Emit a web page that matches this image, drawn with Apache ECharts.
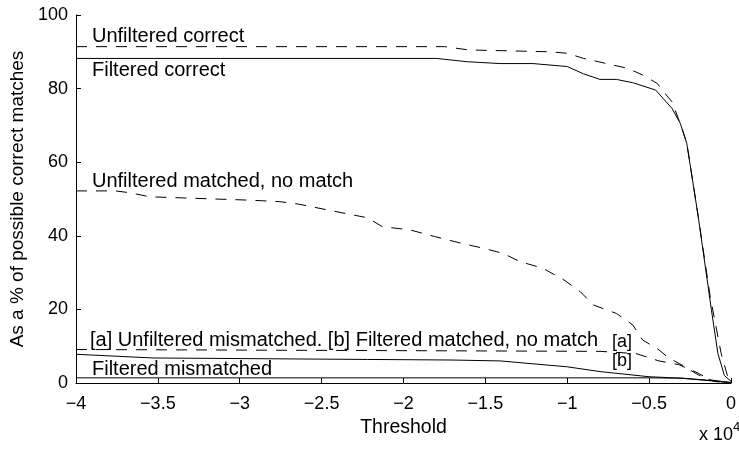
<!DOCTYPE html>
<html><head><meta charset="utf-8">
<script src="https://cdn.jsdelivr.net/npm/echarts@6/dist/echarts.min.js"></script>
<style>html,body{margin:0;padding:0;background:#fff}#c{width:739px;height:450px}</style>
</head><body><div id="c"></div>
<script>
// Threshold values in units of 10^4
const xTicks = [-4, -3.5, -3, -2.5, -2, -1.5, -1, -0.5, 0];
const yTicks = [0, 20, 40, 60, 80, 100];

const unfCorrectX = [-4, -1.75, -1.6, -1.1, -1.0, -0.9, -0.76, -0.63, -0.54, -0.45, -0.42, -0.36, -0.30, -0.27, -0.2, -0.127, -0.06, -0.018, 0];
const unfCorrectY = [91.4, 91.4, 90.5, 90.0, 89.6, 88.2, 86.8, 85.5, 83.7, 81.4, 79.6, 76.4, 69.3, 65.2, 45.2, 23.5, 8, 1.4, 0.5];

const filCorrectX = [-4, -1.8, -1.61, -1.41, -1.21, -1.0, -0.9, -0.8, -0.7, -0.6, -0.46, -0.36, -0.31, -0.27, -0.2, -0.12, -0.08, -0.04, 0];
const filCorrectY = [88.2, 88.2, 87.3, 86.8, 86.8, 86.0, 84.0, 82.5, 82.5, 81.6, 79.6, 74.6, 70.6, 65.1, 45.2, 20, 8, 2, 0.5];

const unfNoMatchX = [-4, -3.76, -3.67, -3.55, -2.95, -2.76, -2.64, -2.46, -2.22, -2.13, -1.96, -1.81, -1.65, -1.51, -1.39, -1.29, -1.15, -1.02, -0.92, -0.84, -0.70, -0.60, -0.54, -0.44, -0.38, -0.30, -0.20, -0.10, 0];
const unfNoMatchY = [52.2, 52.2, 51.7, 50.6, 49.7, 49.3, 48.6, 47.0, 44.9, 42.5, 41.6, 39.8, 38.0, 36.6, 35.2, 33.0, 31.2, 28.0, 24.8, 21.2, 18.9, 15.8, 11.7, 9.0, 6.8, 4.9, 2.2, 0.4, 0];

const unfMismatchX = [-4, -0.8, -0.58, -0.44, -0.32, -0.22, -0.12, 0];
const unfMismatchY = [9.1, 8.6, 8.0, 6.0, 5.0, 3.1, 0.8, 0];

const filNoMatchX = [-4, -3.53, -2.22, -1.71, -1.41, -1.0, -0.8, -0.5, -0.3, -0.1, 0];
const filNoMatchY = [7.8, 6.8, 6.4, 6.25, 6.0, 4.4, 3.1, 1.7, 1.3, 0.5, 0];

const filMismatchX = [-4, -0.5, -0.3, -0.15, 0];
const filMismatchY = [1.4, 1.4, 1.3, 0.8, 0.2];

const FONT = '"Liberation Sans", Arial, Helvetica, sans-serif';
const FS = 18;   // tick labels
const FA = 20;   // annotations

function pairs(xs, ys) { return xs.map((x, i) => [x, ys[i]]); }
function mkLine(name, xs, ys, dashed) {
  return {
    name, type: 'line', data: pairs(xs, ys), showSymbol: false, symbol: 'none',
    silent: true, animation: false,
    lineStyle: { color: '#000', width: 1, type: dashed ? [11, 9] : 'solid' }
  };
}

const chart = echarts.init(document.getElementById('c'), null, { renderer: 'canvas' });
const minus = v => (v < 0 ? '\u2212' : '') + Math.abs(v);
const txt = (s, l, t, f) => ({ type: 'text', left: l, top: t, silent: true,
  style: { text: s, font: (f || FA) + 'px ' + FONT, fill: '#000' } });

chart.setOption({
  animation: false,
  backgroundColor: '#fff',
  grid: { left: 76, right: 3, top: 15, bottom: 67 },
  xAxis: {
    type: 'value', min: xTicks[0], max: xTicks[xTicks.length - 1], interval: 0.5,
    axisLine: { onZero: false, lineStyle: { color: '#000', width: 1 } },
    axisTick: { inside: true, length: 5, lineStyle: { color: '#000' } },
    splitLine: { show: false },
    axisLabel: { color: '#000', fontFamily: FONT, fontSize: FS, margin: 12, formatter: minus, showMinLabel: true, showMaxLabel: true },
    name: 'Threshold', nameLocation: 'middle', nameGap: 33,
    nameTextStyle: { color: '#000', fontFamily: FONT, fontSize: 19.5 }
  },
  yAxis: {
    type: 'value', min: yTicks[0], max: yTicks[yTicks.length - 1], interval: 20,
    axisLine: { show: true, onZero: false, lineStyle: { color: '#000', width: 1 } },
    axisTick: { show: true, inside: true, length: 5, lineStyle: { color: '#000' } },
    splitLine: { show: false },
    axisLabel: { color: '#000', fontFamily: FONT, fontSize: FS, margin: 8 },
    name: 'As a % of possible correct matches', nameLocation: 'middle', nameGap: 47,
    nameTextStyle: { color: '#000', fontFamily: FONT, fontSize: 19 }
  },
  series: [
    mkLine('Unfiltered correct', unfCorrectX, unfCorrectY, true),
    mkLine('Filtered correct', filCorrectX, filCorrectY, false),
    mkLine('Unfiltered matched, no match', unfNoMatchX, unfNoMatchY, true),
    mkLine('Unfiltered mismatched', unfMismatchX, unfMismatchY, true),
    mkLine('Filtered matched, no match', filNoMatchX, filNoMatchY, false),
    mkLine('Filtered mismatched', filMismatchX, filMismatchY, false)
  ],
  graphic: [
    txt('Unfiltered correct', 92, 26),
    txt('Filtered correct', 92, 60),
    txt('Unfiltered matched, no match', 92, 171),
    txt('[a] Unfiltered mismatched. [b] Filtered matched, no match', 90, 330),
    txt('Filtered mismatched', 92, 359),
    txt('[a]', 612, 333, 18),
    txt('[b]', 612, 352, 18),
    { type: 'text', left: 699, top: 421, silent: true, style: { text: '{a|x 10}{s|4}', font: FS + 'px ' + FONT, fill: '#000',
        rich: { a: { fontSize: FS, fontFamily: FONT, fill: '#000', verticalAlign: 'bottom' },
                s: { fontSize: 13, fontFamily: FONT, fill: '#000', verticalAlign: 'top', padding: [0, 0, 10, 0] } } } }
  ]
});
</script></body></html>
